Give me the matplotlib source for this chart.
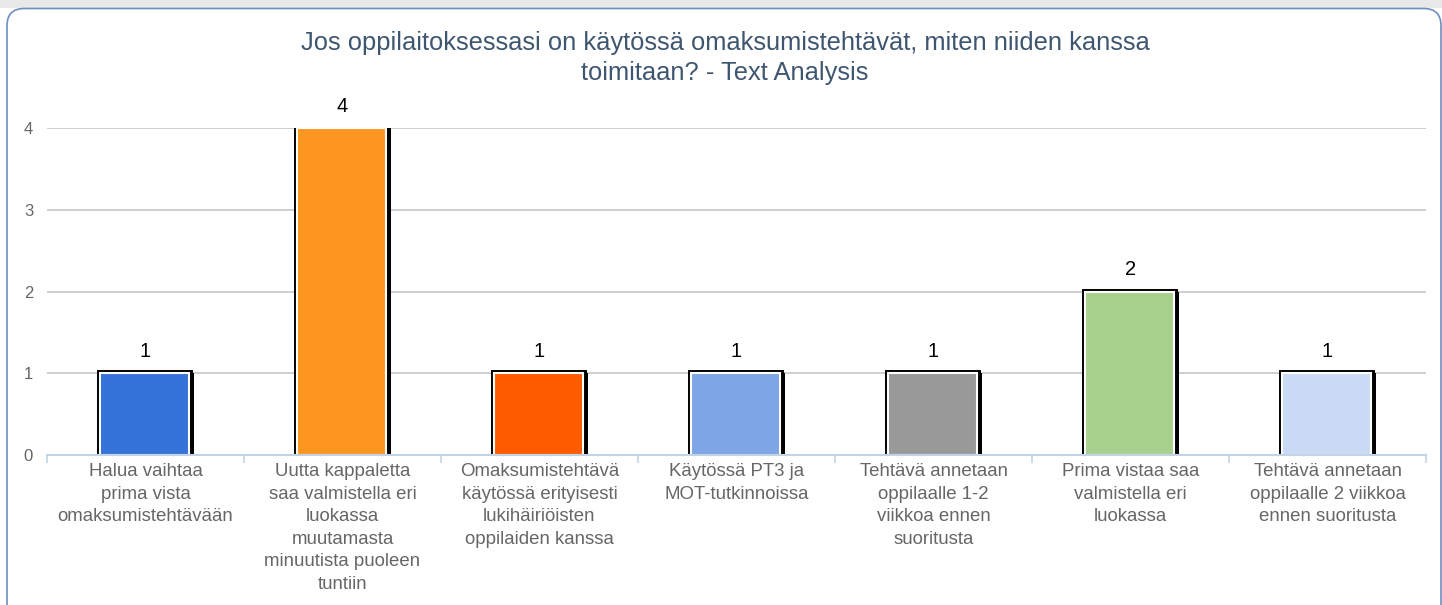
import matplotlib.pyplot as plt
import matplotlib.patheffects as pe
from matplotlib.patches import FancyBboxPatch, Rectangle
import numpy as np

plt.rcParams['font.family'] = ['Liberation Sans', 'DejaVu Sans']

# data
categories = [
    "Halua vaihtaa\nprima vista\nomaksumistehtävään",
    "Uutta kappaletta\nsaa valmistella eri\nluokassa\nmuutamasta\nminuutista puoleen\ntuntiin",
    "Omaksumistehtävä\nkäytössä erityisesti\nlukihäiriöisten\noppilaiden kanssa",
    "Käytössä PT3 ja\nMOT-tutkinnoissa",
    "Tehtävä annetaan\noppilaalle 1-2\nviikkoa ennen\nsuoritusta",
    "Prima vistaa saa\nvalmistella eri\nluokassa",
    "Tehtävä annetaan\noppilaalle 2 viikkoa\nennen suoritusta",
]
counts = [1, 4, 1, 1, 1, 2, 1]
colors = ['#3673d8', '#fd9621', '#ff5b00', '#7ea5e6', '#999999', '#a8d08d', '#c9dbf4']
title = "Jos oppilaitoksessasi on käytössä omaksumistehtävät, miten niiden kanssa\ntoimitaan? - Text Analysis"

W, H = 1442, 605
fig = plt.figure(figsize=(W / 100, H / 100), dpi=100)

# grey strip on top and the rounded card
fig.patches.append(Rectangle((0, 1 - 8 / H), 1, 8 / H, transform=fig.transFigure,
                             facecolor='#e8e8e8', edgecolor='none', zorder=-2))
card = FancyBboxPatch((7 / W, -0.1), (1441 - 7) / W, 1.1 - 8.5 / H,
                      boxstyle="round,pad=0,rounding_size=0.012", transform=fig.transFigure,
                      facecolor='white', edgecolor='#6d8fc0', linewidth=1.2, zorder=-1,
                      mutation_aspect=W / H)
fig.patches.append(card)

ax = fig.add_axes([47 / W, 150 / H, (1426 - 47) / W, 327 / H])
ax.set_zorder(1)
ax.set_facecolor('none')

x = np.arange(len(counts))
bw = 0.45
bars = ax.bar(x - 0.005, counts, width=bw, color=colors, edgecolor='white', linewidth=1.5, zorder=3)
for b in bars:
    b.set_path_effects([
        pe.SimplePatchShadow(offset=(4.0, 0), shadow_rgbFace='black', alpha=1),
        pe.Stroke(linewidth=5.0, foreground='black'),
        pe.Normal(),
    ])

for xi, v in zip(x, counts):
    ax.annotate(str(v), (xi, v), xytext=(0, 9), textcoords='offset points',
                ha='center', va='bottom', fontsize=14.5, color='black')

ax.set_xlim(-0.5, len(counts) - 0.5)
ax.set_ylim(0, 4)
ax.set_yticks([0, 1, 2, 3, 4])
ax.yaxis.grid(True, color='#c6c6c6', linewidth=1.2, zorder=0)
ax.set_axisbelow(True)

ax.set_xticks(x)
ax.set_xticklabels(categories, fontsize=13.4, color='#666666', linespacing=1.42)
ax.set_xticks(np.arange(len(counts) + 1) - 0.5, minor=True)
ax.tick_params(axis='x', which='major', length=0, pad=6)
ax.tick_params(axis='x', which='minor', length=6, color='#c3d3e6', width=1.2)
ax.tick_params(axis='y', length=0, pad=10, labelsize=12, labelcolor='#666666')

for s in ['top', 'right', 'left']:
    ax.spines[s].set_visible(False)
ax.spines['bottom'].set_color('#c3d3e6')
ax.spines['bottom'].set_linewidth(1.5)
ax.spines['bottom'].set_zorder(4)

fig.text(725 / W, 1 - 58 / H, title, ha='center', va='center', fontsize=18.4,
         color='#3f5670', linespacing=1.3)

fig.savefig('out.png', dpi=100)
